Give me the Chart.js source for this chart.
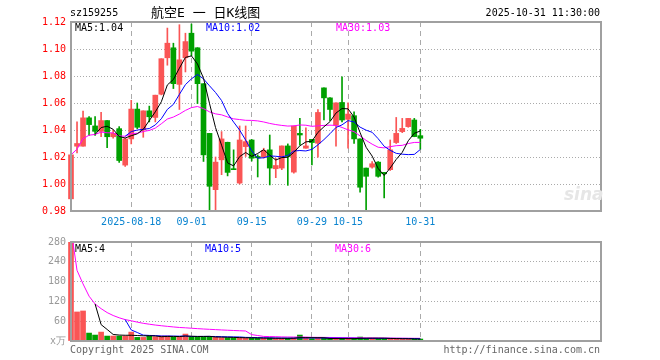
<!DOCTYPE html>
<html lang="zh">
<head>
  <meta charset="UTF-8" />
  <title>航空E 日K线图</title>
  <script src="https://cdn.jsdelivr.net/npm/chart.js"></script>
  <style>
    body {
      margin: 0;
      width: 660px;
      height: 360px;
      background: #fff;
      position: relative;
      overflow: hidden;
      font-family: "DejaVu Sans Mono", monospace;
      font-size: 10px;
      line-height: 12px;
    }
    canvas { position: absolute; left: 0; }
    .txt { position: absolute; white-space: pre; }
    #title { font-family: "DejaVu Sans Mono", "Noto Sans CJK SC", monospace; font-size: 13px; line-height: 16px; }
    #logo { font-family: "DejaVu Sans", sans-serif; font-style: italic; font-weight: bold; font-size: 17px; color: #e6e6e6; }
  </style>
</head>
<body>
  <canvas id="kChart" width="660" height="232" style="top:0"></canvas>
  <canvas id="volChart" width="660" height="130" style="top:230px"></canvas>

  <div class="txt" style="left:70px;top:7px">sz159255</div>
  <div class="txt" id="title" style="left:151px;top:5px">航空E 一 日K线图</div>
  <div class="txt" style="right:60px;top:7px">2025-10-31 11:30:00</div>

  <div class="txt" style="left:75px;top:22px;color:#000">MA5:1.04</div>
  <div class="txt" style="left:206px;top:22px;color:#0000ff">MA10:1.02</div>
  <div class="txt" style="left:336px;top:22px;color:#ff00ff">MA30:1.03</div>

  <div class="txt" style="left:75px;top:243px;color:#000">MA5:4</div>
  <div class="txt" style="left:205px;top:243px;color:#0000ff">MA10:5</div>
  <div class="txt" style="left:335px;top:243px;color:#ff00ff">MA30:6</div>

  <div class="txt" id="logo" style="left:564px;top:188px">sina</div>

  <div class="txt" style="left:70px;top:344px;color:#666">Copyright 2025 SINA.COM</div>
  <div class="txt" style="right:60px;top:344px;color:#666">http://finance.sina.com.cn</div>

  <script>
    // daily candles
    const dates = [
      '2025-08-04','2025-08-05','2025-08-06','2025-08-07','2025-08-08',
      '2025-08-11','2025-08-12','2025-08-13','2025-08-14','2025-08-15',
      '2025-08-18','2025-08-19','2025-08-20','2025-08-21','2025-08-22',
      '2025-08-25','2025-08-26','2025-08-27','2025-08-28','2025-08-29',
      '2025-09-01','2025-09-02','2025-09-03','2025-09-04','2025-09-05',
      '2025-09-08','2025-09-09','2025-09-10','2025-09-11','2025-09-12',
      '2025-09-15','2025-09-16','2025-09-17','2025-09-18','2025-09-19',
      '2025-09-22','2025-09-23','2025-09-24','2025-09-25','2025-09-26',
      '2025-09-29','2025-09-30','2025-10-09','2025-10-10','2025-10-13',
      '2025-10-14','2025-10-15','2025-10-16','2025-10-17','2025-10-20',
      '2025-10-21','2025-10-22','2025-10-23','2025-10-24','2025-10-27',
      '2025-10-28','2025-10-29','2025-10-30','2025-10-31'
    ];
    const open = [
      0.989, 1.028, 1.028, 1.049, 1.043, 1.039, 1.047, 1.035, 1.041, 1.014,
      1.0334, 1.0555, 1.040, 1.0542, 1.0493, 1.0665, 1.0935, 1.1009, 1.0738, 1.0935,
      1.1117, 1.1009, 1.0743, 1.0375, 0.9958, 1.0179, 1.0309, 1.0113, 1.0007, 1.0277,
      1.0326, 1.0204, 1.0199, 1.0253, 1.0113, 1.0118, 1.0282, 1.0088, 1.0375, 1.0265,
      1.0331, 1.0302, 1.0712, 1.0638, 1.0435, 1.0604, 1.0479, 1.0506, 1.0334, 1.0118,
      1.0125, 1.0162, 1.0086, 1.0106, 1.0307, 1.0388, 1.0425, 1.0474, 1.0358
    ];
    const high = [
      1.022, 1.046, 1.054, 1.050, 1.050, 1.053, 1.047, 1.040, 1.0425, 1.034,
      1.062, 1.060, 1.0542, 1.0577, 1.0658, 1.0928, 1.1155, 1.1043, 1.118, 1.1117,
      1.1185, 1.101, 1.0743, 1.0375, 1.020, 1.0388, 1.031, 1.0253, 1.043, 1.043,
      1.033, 1.0216, 1.0265, 1.0363, 1.019, 1.0282, 1.0297, 1.0429, 1.0486, 1.0417,
      1.0331, 1.0552, 1.0712, 1.064, 1.0601, 1.0793, 1.0601, 1.0535, 1.0334, 1.0118,
      1.0167, 1.0167, 1.0086, 1.0326, 1.0493, 1.0486, 1.0486, 1.0486, 1.0405
    ];
    const low = [
      0.988, 1.023, 1.028, 1.036, 1.036, 1.035, 1.027, 1.034, 1.016, 1.013,
      1.0297, 1.041, 1.0346, 1.046, 1.046, 1.066, 1.088, 1.0707, 1.0552, 1.083,
      1.095, 1.0596, 1.0167, 0.980, 0.9805, 1.0069, 1.006, 1.0106, 1.000, 1.0204,
      1.017, 1.0052, 1.0192, 0.9993, 1.0047, 1.0106, 0.999, 1.008, 1.0287, 1.0265,
      1.0142, 1.0199, 1.0474, 1.047, 1.028, 1.046, 1.0265, 1.030, 0.994, 0.9805,
      1.0118, 1.005, 0.9897, 1.010, 1.030, 1.038, 1.042, 1.035, 1.0258
    ];
    const close = [
      1.0216, 1.030, 1.049, 1.044, 1.039, 1.047, 1.035, 1.0375, 1.0174, 1.0334,
      1.0555, 1.042, 1.0542, 1.0498, 1.0658, 1.0928, 1.1043, 1.0743, 1.092, 1.1055,
      1.0984, 1.0743, 1.0216, 0.9983, 1.0162, 1.0334, 1.0086, 1.0106, 1.0326, 1.0314,
      1.0191, 1.0194, 1.0248, 1.0118, 1.0137, 1.0282, 1.0204, 1.0429, 1.0363, 1.0282,
      1.0307, 1.053, 1.0638, 1.0552, 1.0601, 1.0474, 1.0518, 1.0334, 0.9976, 1.0057,
      1.015, 1.0057, 1.0076, 1.0253, 1.0375, 1.0412, 1.0486, 1.0351, 1.0339
    ];
    // volume in 万 (first day runs past the top of the panel)
    const volume = [
      340, 88, 91, 24, 18, 27, 15, 15, 15, 15,
      27, 11, 11, 15, 13, 15, 15, 12, 12, 21,
      12, 12, 12, 14, 11, 10, 10, 10, 10, 9,
      9, 8, 8, 9, 8, 8, 8, 9, 18, 8,
      7, 8, 8, 7, 7, 7, 7, 8, 12, 8,
      8, 7, 8, 8, 6, 6, 6, 6, 6
    ];
    const tickDates = ['2025-08-18', '2025-09-01', '2025-09-15', '2025-09-29', '2025-10-15', '2025-10-31'];
    const emptySlots = 30;   // blank space right of the last candle

    const RED = '#fa5555';
    const GREEN = '#00a000';
    const GRID = '#aaaaaa';

    function movingAvg(arr, n, expanding) {
      return arr.map((_, i) => {
        if (i < n - 1 && !expanding) return null;
        const s = arr.slice(Math.max(0, i - n + 1), i + 1);
        return s.reduce((a, b) => a + b, 0) / s.length;
      });
    }

    const labels = dates.concat(new Array(emptySlots).fill(''));
    const candleColor = close.map((c, i) => c >= open[i] ? RED : GREEN);

    const frame = {
      id: 'frame',
      afterDraw(chart) {
        const a = chart.chartArea;
        const c = chart.ctx;
        c.save();
        c.strokeStyle = '#a0a0a0';
        c.lineWidth = 2;
        c.strokeRect(a.left, a.top, a.right - a.left, a.bottom - a.top);
        c.restore();
      }
    };

    function xAxis(showLabels, height) {
      return {
        offset: false,
        afterFit(scale) { scale.height = height; },
        grid: {
          offset: false,
          drawTicks: false,
          lineWidth: 1,
          color: (ctx) => (ctx.tick && tickDates.includes(labels[ctx.index])) ? GRID : 'rgba(0,0,0,0)'
        },
        border: { display: false, dash: [5, 4] },
        ticks: {
          display: showLabels,
          autoSkip: false,
          maxRotation: 0,
          minRotation: 0,
          padding: 5,
          color: '#0a84d0',
          font: { family: 'DejaVu Sans Mono', size: 10 },
          callback: (v, i) => {
            const d = labels[i];
            if (!tickDates.includes(d)) return '';
            return d === tickDates[0] ? d : d.slice(5);
          }
        }
      };
    }

    function maLine(label, data, color) {
      return {
        label: label,
        type: 'line',
        data: data,
        borderColor: color,
        borderWidth: 1,
        pointRadius: 0,
        tension: 0,
        order: 0
      };
    }

    const kChart = new Chart(document.getElementById('kChart'), {
      type: 'bar',
      data: {
        labels: labels,
        datasets: [
          maLine('MA5', movingAvg(close, 5, false), '#000000'),
          maLine('MA10', movingAvg(close, 10, false), '#0000ff'),
          maLine('MA30', movingAvg(close, 30, true), '#ff00ff'),
          {
            label: 'body',
            data: open.map((o, i) => [o, close[i]]),
            backgroundColor: candleColor,
            barThickness: 5,
            minBarLength: 1,
            grouped: false,
            clip: false,
            order: 1
          },
          {
            label: 'wick',
            data: low.map((l, i) => [l, high[i]]),
            backgroundColor: candleColor,
            barThickness: 1,
            grouped: false,
            clip: false,
            order: 2
          }
        ]
      },
      options: {
        responsive: false,
        animation: false,
        layout: { padding: { left: 0, right: 59, top: 22, bottom: 0 } },
        plugins: { legend: { display: false }, tooltip: { enabled: false } },
        scales: {
          x: xAxis(true, 21),
          y: {
            min: 0.98,
            max: 1.12,
            afterFit(scale) { scale.width = 71; },
            grid: { drawTicks: false, color: GRID, lineWidth: 1 },
            border: { display: false, dash: [1, 2] },
            ticks: {
              stepSize: 0.02,
              padding: 5,
              color: '#ff0000',
              font: { family: 'DejaVu Sans Mono', size: 10 },
              callback: (v) => Number(v).toFixed(2)
            }
          }
        }
      },
      plugins: [frame]
    });

    const volChart = new Chart(document.getElementById('volChart'), {
      type: 'bar',
      data: {
        labels: labels,
        datasets: [
          maLine('MA5', movingAvg(volume, 5, false), '#000000'),
          maLine('MA10', movingAvg(volume, 10, false), '#0000ff'),
          maLine('MA30', movingAvg(volume, 30, true), '#ff00ff'),
          {
            label: 'vol',
            data: volume,
            backgroundColor: candleColor,
            barThickness: 5,
            grouped: false,
            clip: { left: 4, top: 0, right: 0, bottom: 0 },
            order: 1
          }
        ]
      },
      options: {
        responsive: false,
        animation: false,
        layout: { padding: { left: 0, right: 59, top: 12, bottom: 0 } },
        plugins: { legend: { display: false }, tooltip: { enabled: false } },
        scales: {
          x: xAxis(false, 19),
          y: {
            min: 0,
            max: 300,
            afterFit(scale) { scale.width = 71; },
            grid: { drawTicks: false, color: GRID, lineWidth: 1 },
            border: { display: false, dash: [1, 2] },
            ticks: {
              stepSize: 60,
              padding: 5,
              color: '#999999',
              font: { family: 'DejaVu Sans Mono', size: 10 },
              callback: (v) => v === 0 ? 'x万' : (v === 300 ? '280' : v)
            }
          }
        }
      },
      plugins: [frame]
    });
  </script>
</body>
</html>
